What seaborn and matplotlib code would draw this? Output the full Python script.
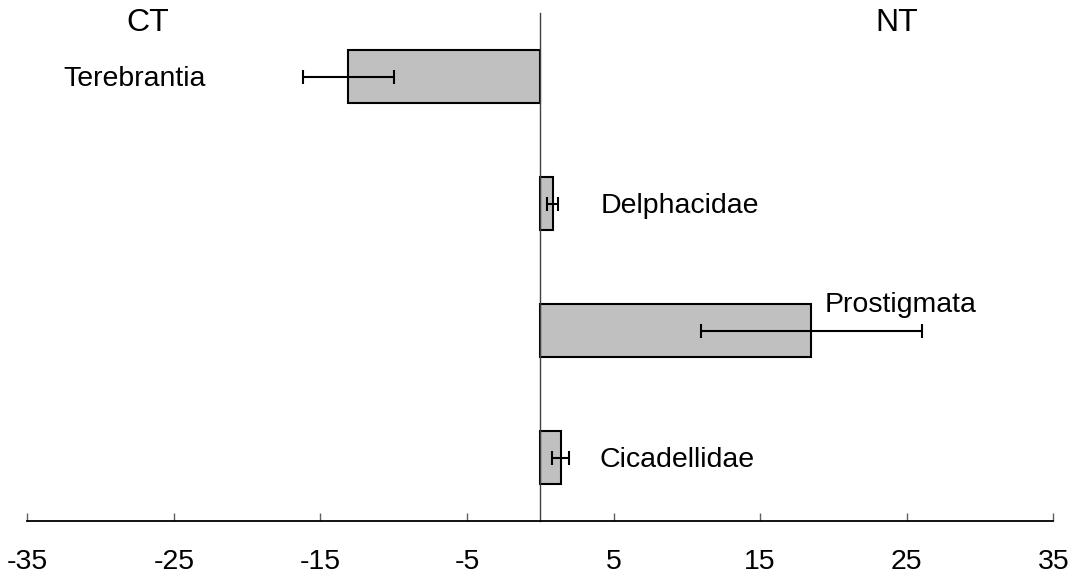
import matplotlib
matplotlib.use("Agg")
import matplotlib.pyplot as plt
import matplotlib.lines as mlines
import seaborn as sns
import numpy as np

# Taxa and their mean difference (NT - CT) with standard errors
taxa = ["Terebrantia", "Delphacidae", "Prostigmata", "Cicadellidae"]
values = [-13.1, 0.85, 18.5, 1.38]
errors = [3.1, 0.37, 7.55, 0.57]
tick_values = [-35, -25, -15, -5, 5, 15, 25, 35]
tick_labels = ["-35", "-25", "-15", "-5", "5", "15", "25", "35"]

# Label placement (x in data units, y in category units, alignment)
label_pos = {
    "Terebrantia": (-22.8, 0.02, "right"),
    "Delphacidae": (4.1, 1.02, "left"),
    "Prostigmata": (19.4, 1.8, "left"),
    "Cicadellidae": (4.05, 3.02, "left"),
}

sns.set_theme(style="white")
plt.rcParams["font.family"] = ["Liberation Sans", "DejaVu Sans"]
plt.rcParams["axes.unicode_minus"] = False
plt.rcParams["text.color"] = "black"
plt.rcParams["xtick.color"] = "black"
plt.rcParams["xtick.direction"] = "in"
plt.rcParams["xtick.bottom"] = True

fig = plt.figure(figsize=(10.76, 5.79), dpi=100)
ax = fig.add_axes([27.3 / 1076, 58 / 579, 1026 / 1076, 508 / 579])

sns.barplot(x=values, y=taxa, orient="h", color="#C0C0C0", saturation=1,
            edgecolor="black", linewidth=1.5, width=0.41, errorbar=None, ax=ax)
ax.errorbar(values, np.arange(len(taxa)), xerr=errors, fmt="none",
            ecolor="black", elinewidth=1.5, capsize=5, capthick=1.5, zorder=5)

ax.set_xlim(-35, 35)
ax.set_ylim(3.5, -0.5)
ax.set_yticks([])
ax.set_ylabel("")
ax.set_xticks(tick_values)
ax.set_xticklabels(tick_labels, fontsize=20.5, color="black")
ax.tick_params(axis="x", direction="in", length=6, width=1, color="#606060",
               pad=20, bottom=True, labelcolor="black")
# Tick marks rise from the axis line into the plot area
for tick in ax.xaxis.get_major_ticks():
    tick.tick1line.set_marker(mlines.TICKUP)

for side in ("top", "right"):
    ax.spines[side].set_visible(False)
ax.spines["left"].set_position(("data", 0))
ax.spines["left"].set_color("#404040")
ax.spines["left"].set_linewidth(1)
ax.spines["bottom"].set_color("black")
ax.spines["bottom"].set_linewidth(1.3)

for name in taxa:
    x, y, ha = label_pos[name]
    ax.text(x, y, name, ha=ha, va="center", fontsize=20.5, color="black")

ax.text(-26.8, -0.42, "CT", ha="center", va="center", fontsize=23, color="black")
ax.text(24.3, -0.42, "NT", ha="center", va="center", fontsize=23, color="black")

fig.savefig("out.png", dpi=100)
